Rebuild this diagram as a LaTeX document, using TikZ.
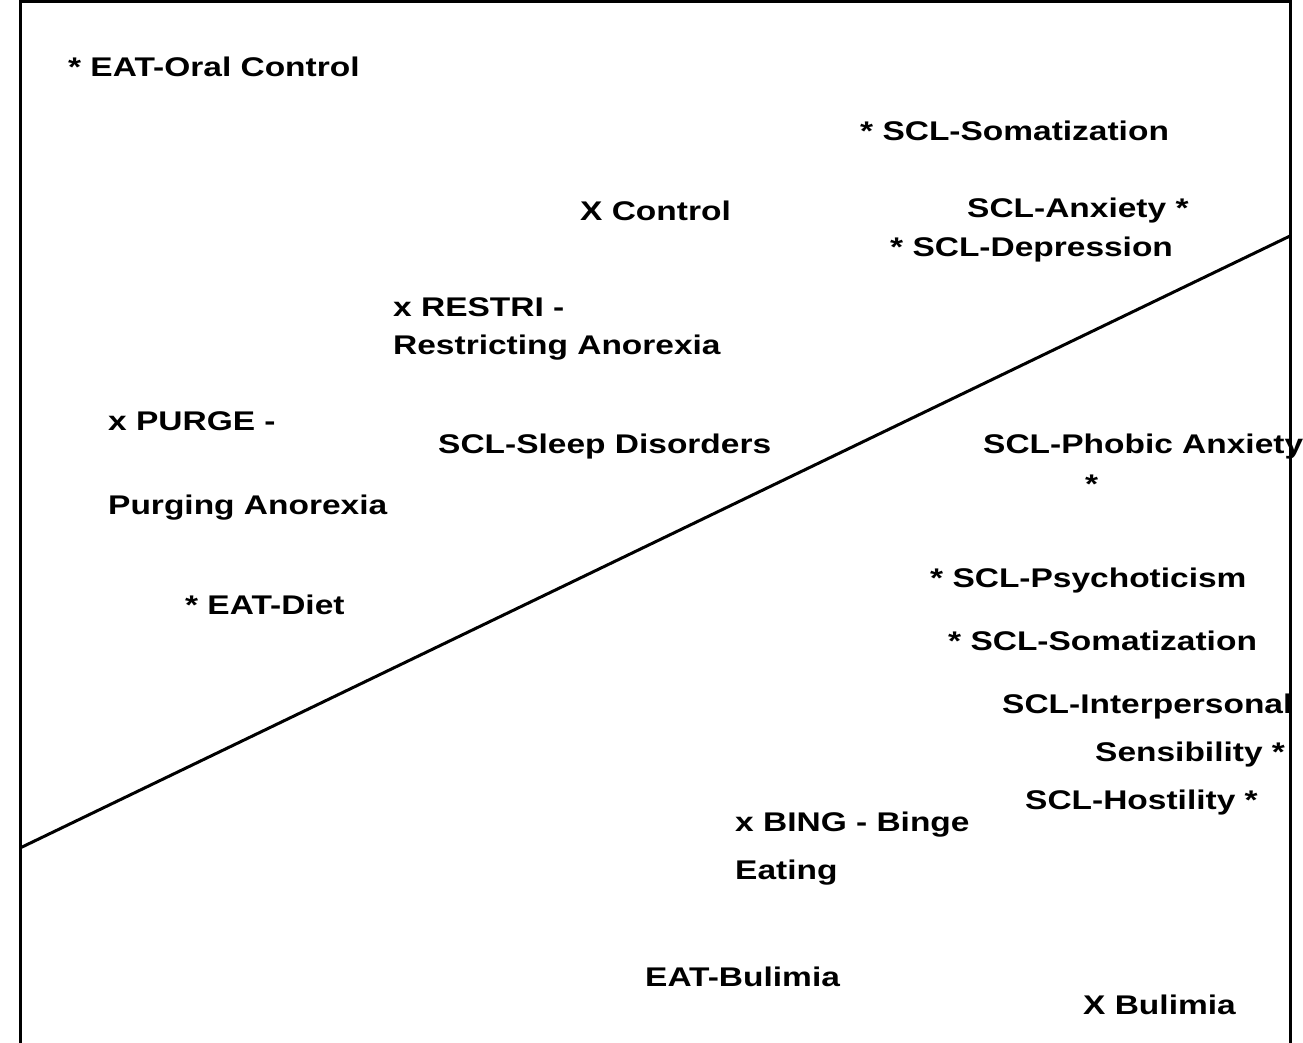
\documentclass[tikz,border=0pt]{standalone}
\usepackage{fontspec}
\setmainfont{Liberation Sans}
\newcommand{\wide}[1]{\scalebox{1.24}[1]{#1}}
\begin{document}
\begin{tikzpicture}[x=1pt,y=-1pt,
  lab/.style={anchor=west,inner sep=0pt,font=\fontsize{27}{30}\selectfont\bfseries}]
\useasboundingbox (0,0) rectangle (1303,1043);
\draw[line width=3pt] (20,1043) -- (20,2) -- (1290,2) -- (1290,1043);
\coordinate (l1) at (20,848);
\coordinate (l2) at (1290,236);
\draw[line width=3pt] (l1) -- (l2);
\node[lab] (a1) at (68,67) {\wide{* EAT-Oral Control}};
\node[lab] (a2) at (860,131) {\wide{* SCL-Somatization}};
\node[lab] (a3) at (580,211) {\wide{X Control}};
\node[lab] (a4) at (967,211) {\wide{SCL-Anxiety *}};
\node[lab] (a5) at (890,250) {\wide{* SCL-Depression}};
\node[lab] (a6) at (393,307) {\wide{x RESTRI -}};
\node[lab] (a7) at (393,348) {\wide{Restricting Anorexia}};
\node[lab] (a8) at (108,421) {\wide{x PURGE -}};
\node[lab] (a9) at (438,447) {\wide{SCL-Sleep Disorders}};
\node[lab] (a10) at (983,447) {\wide{SCL-Phobic Anxiety}};
\node[lab] (a11) at (1085,484) {\wide{*}};
\node[lab] (a12) at (108,508) {\wide{Purging Anorexia}};
\node[lab] (a13) at (930,581) {\wide{* SCL-Psychoticism}};
\node[lab] (a14) at (185,605) {\wide{* EAT-Diet}};
\node[lab] (a15) at (948,641) {\wide{* SCL-Somatization}};
\node[lab] (a16) at (1002,707) {\wide{SCL-Interpersonal}};
\node[lab] (a17) at (1095,755) {\wide{Sensibility *}};
\node[lab] (a18) at (1025,803) {\wide{SCL-Hostility *}};
\node[lab] (a19) at (735,825) {\wide{x BING - Binge}};
\node[lab] (a20) at (735,873) {\wide{Eating}};
\node[lab] (a21) at (645,977) {\wide{EAT-Bulimia}};
\node[lab] (a22) at (1083,1005) {\wide{X Bulimia}};
\end{tikzpicture}
\end{document}
